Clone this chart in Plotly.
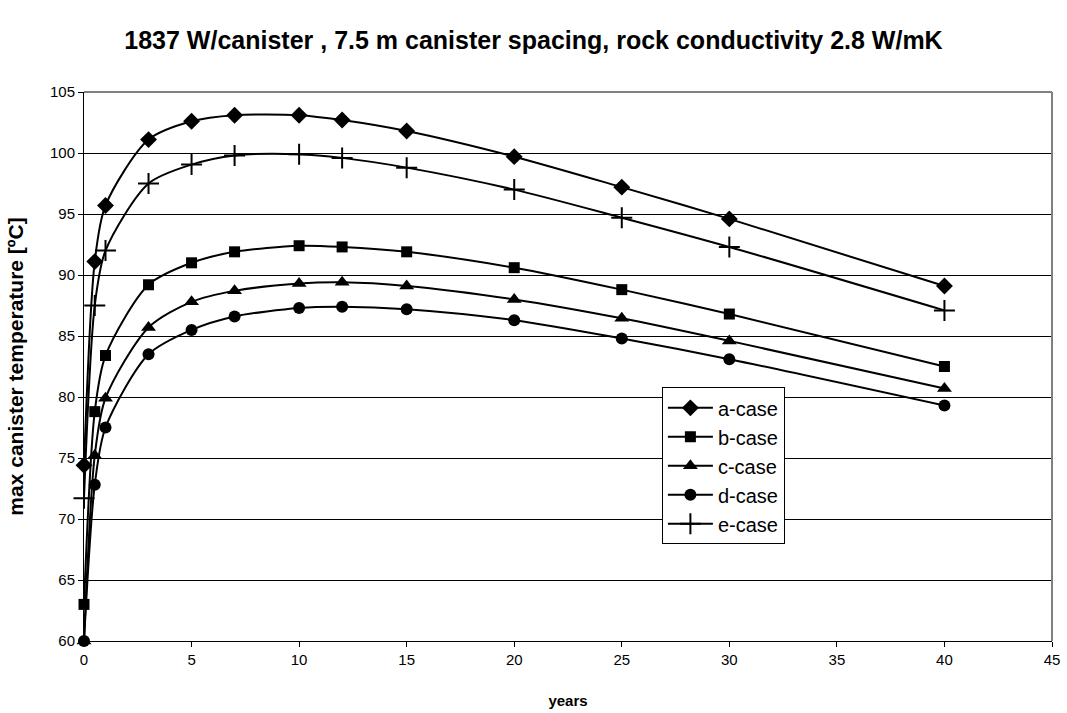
import plotly.graph_objects as go

# Time after deposition (years)
years = [0, 0.5, 1, 3, 5, 7, 10, 12, 15, 20, 25, 30, 40]

# Maximum canister temperature (°C) for each case
a_case = [74.4, 91.1, 95.7, 101.1, 102.6, 103.1, 103.1, 102.7, 101.8, 99.7, 97.2, 94.6, 89.1]
b_case = [63.0, 78.8, 83.4, 89.2, 91.0, 91.9, 92.4, 92.3, 91.9, 90.6, 88.8, 86.8, 82.5]
c_case = [60.0, 75.2, 79.9, 85.7, 87.8, 88.7, 89.3, 89.4, 89.1, 88.0, 86.45, 84.6, 80.7]
d_case = [60.0, 72.8, 77.5, 83.5, 85.5, 86.6, 87.3, 87.4, 87.2, 86.3, 84.8, 83.1, 79.3]
e_case = [71.7, 87.5, 92.0, 97.5, 99.05, 99.8, 99.9, 99.6, 98.8, 97.0, 94.7, 92.3, 87.1]

series = [
    ("a-case", a_case, dict(symbol="diamond", size=13)),
    ("b-case", b_case, dict(symbol="square", size=11)),
    ("c-case", c_case, dict(symbol="triangle-up", size=13)),
    ("d-case", d_case, dict(symbol="circle", size=12)),
    ("e-case", e_case, dict(symbol="cross-thin", size=15, line=dict(width=2, color="black"))),
]

font_family = "Liberation Sans, Arial, sans-serif"

fig = go.Figure()
for name, vals, marker in series:
    fig.add_trace(go.Scatter(
        x=years, y=vals, mode="lines+markers", name=name,
        line=dict(color="black", width=2, shape="spline", smoothing=0.8),
        marker=dict(color="black", **marker),
        cliponaxis=False,
    ))

fig.update_layout(
    width=1067, height=713,
    margin=dict(l=84, r=15, t=92, b=72, autoexpand=False),
    paper_bgcolor="white", plot_bgcolor="white",
    font=dict(family=font_family, color="black", size=15),
    title=dict(
        text="<b>1837 W/canister , 7.5 m canister spacing, rock conductivity 2.8 W/mK</b>",
        x=0.5, xanchor="center", y=1 - 40 / 713, yanchor="middle", yref="container",
        font=dict(size=25, family=font_family, color="black"),
    ),
    showlegend=True,
    legend=dict(
        x=0.597, y=0.462, xanchor="left", yanchor="top",
        bgcolor="white", bordercolor="black", borderwidth=1,
        font=dict(size=20, family=font_family, color="black"),
        itemwidth=45,
        tracegroupgap=0,
    ),
)

fig.update_xaxes(
    range=[0, 45], dtick=5, tick0=0, automargin=False,
    showgrid=False, zeroline=False,
    showline=True, linecolor="black", linewidth=1, mirror=False,
    ticks="outside", ticklen=5, tickcolor="black",
    tickfont=dict(size=15),
    title=dict(text="<b>years</b>", font=dict(size=15), standoff=28),
)
fig.update_yaxes(
    range=[60, 105], dtick=5, tick0=60, automargin=False,
    showgrid=True, gridcolor="black", gridwidth=1, zeroline=False,
    showline=True, linecolor="black", linewidth=1, mirror=False,
    ticks="outside", ticklen=5, tickcolor="black",
    tickfont=dict(size=15),
    title=dict(text="<b>max canister temperature [ºC]</b>", font=dict(size=21), standoff=20),
)

# Grey frame on the top and right of the plotting area
fig.add_shape(type="line", xref="paper", yref="paper", x0=0, x1=1, y0=1, y1=1,
              line=dict(color="#808080", width=2))
fig.add_shape(type="line", xref="paper", yref="paper", x0=1, x1=1, y0=0, y1=1,
              line=dict(color="#808080", width=2))

fig.write_html("out.html")
